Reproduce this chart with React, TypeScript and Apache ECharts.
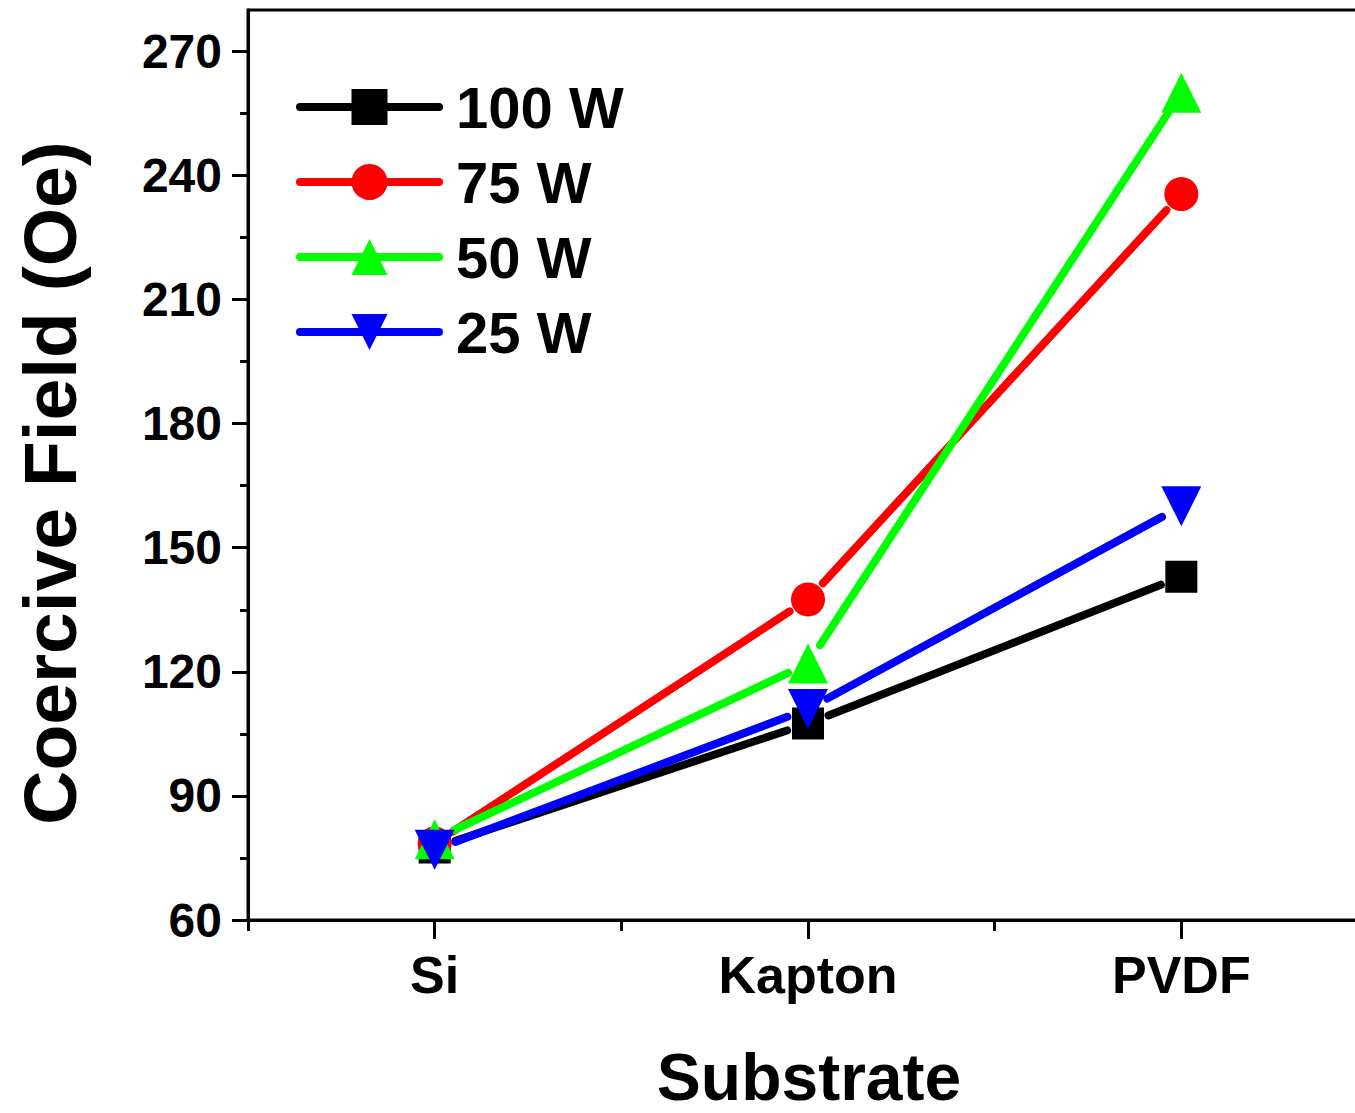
import React, { useEffect, useRef } from 'react';
import * as echarts from 'echarts';

// ---- data ----
const categories = ['Si', 'Kapton', 'PVDF'];
const seriesNames = ['100 W', '75 W', '50 W', '25 W'];
const values100W = [77.5, 107.5, 143];
const values75W = [78.5, 137.5, 235.5];
const values50W = [79.5, 122, 260];
const values25W = [77, 111, 160];
const yMajorTicks = [60, 90, 120, 150, 180, 210, 240, 270];
const yMinorTicks = [75, 105, 135, 165, 195, 225, 255];
const yMin = 60;
const yMax = 280;

// ---- styles ----
const FONT = '"Liberation Sans", Arial, Helvetica, sans-serif';
const colors = ['#000000', '#ff0000', '#00ff00', '#0000ff'];
const symbols = ['rect', 'circle', 'triangle', 'triangle'];
const symbolSizes: any[] = [32, 34, [40, 40], [40, 40]];
const symbolRotates = [0, 0, 0, 180];
const LINE_W = 8;
const GAP = 22;

const allValues = [values100W, values75W, values50W, values25W];

function segments(vals: number[]) {
  return vals.slice(1).map((v, i) => [i, vals[i], i + 1, v]);
}

function segRenderer(color: string) {
  return (params: any, api: any) => {
    const a = api.coord([api.value(0), api.value(1)]);
    const b = api.coord([api.value(2), api.value(3)]);
    const dx = b[0] - a[0];
    const dy = b[1] - a[1];
    const len = Math.hypot(dx, dy) || 1;
    const ux = dx / len;
    const uy = dy / len;
    return {
      type: 'line',
      shape: {
        x1: a[0] + ux * GAP,
        y1: a[1] + uy * GAP,
        x2: b[0] - ux * GAP,
        y2: b[1] - uy * GAP,
      },
      style: { stroke: color, lineWidth: LINE_W, lineCap: 'round', fill: null },
    };
  };
}

export default function App() {
  const ref = useRef<HTMLDivElement>(null);

  useEffect(() => {
    document.body.style.margin = '0';
    document.body.style.overflow = 'hidden';
    document.documentElement.style.overflow = 'hidden';
    if (!ref.current) return;
    const chart = echarts.init(ref.current, null, { renderer: 'svg' });

    const lineSeries = allValues.map((vals, i) => ({
      type: 'custom',
      name: seriesNames[i] + ' line',
      xAxisIndex: 0,
      yAxisIndex: 0,
      data: segments(vals),
      encode: { x: [0, 2], y: [1, 3] },
      renderItem: segRenderer(colors[i]),
      silent: true,
      z: 2,
    }));

    const markerSeries = allValues.map((vals, i) => ({
      type: 'line',
      name: seriesNames[i],
      xAxisIndex: 0,
      yAxisIndex: 0,
      data: vals,
      color: colors[i],
      symbol: symbols[i],
      symbolSize: symbolSizes[i],
      symbolRotate: symbolRotates[i],
      showAllSymbol: true,
      itemStyle: { color: colors[i], opacity: 1 },
      lineStyle: { width: 0, color: colors[i] },
      z: 3,
    }));

    const option: any = {
      animation: false,
      backgroundColor: '#ffffff',
      grid: {
        show: true,
        left: 248,
        top: 10,
        width: 1120,
        height: 910,
        borderWidth: 3,
        borderColor: '#000',
        backgroundColor: 'transparent',
        containLabel: false,
      },
      legend: {
        orient: 'vertical',
        left: 291,
        top: 72,
        padding: 5,
        itemWidth: 139,
        itemHeight: 45,
        itemGap: 15,
        data: seriesNames,
        lineStyle: { width: LINE_W, cap: 'round' },
        textStyle: {
          fontFamily: FONT,
          fontWeight: 'bold',
          fontSize: 58,
          lineHeight: 60,
          color: '#000',
          padding: [0, 0, 0, 12],
        },
        selectedMode: false,
      },
      xAxis: [
        {
          type: 'category',
          data: categories,
          position: 'bottom',
          boundaryGap: true,
          axisLine: { show: true, lineStyle: { color: '#000', width: 3 } },
          axisTick: { show: true, alignWithLabel: true, inside: false, length: 19, lineStyle: { color: '#000', width: 3 } },
          axisLabel: {
            show: true,
            margin: 29,
            fontFamily: FONT,
            fontWeight: 'bold',
            fontSize: 52,
            color: '#000',
          },
          splitLine: { show: false },
        },
        {
          type: 'category',
          data: categories,
          position: 'bottom',
          offset: 0,
          boundaryGap: true,
          axisLine: { show: false },
          axisTick: { show: true, alignWithLabel: false, inside: false, length: 11, lineStyle: { color: '#000', width: 3 } },
          axisLabel: { show: false },
          splitLine: { show: false },
        },
      ],
      yAxis: [
        {
          type: 'value',
          position: 'left',
          min: yMin,
          max: yMax,
          interval: 30,
          axisLine: { show: true, lineStyle: { color: '#000', width: 3 } },
          axisTick: { show: true, inside: false, length: 16, customValues: yMajorTicks, lineStyle: { color: '#000', width: 3 } },
          axisLabel: {
            show: true,
            customValues: yMajorTicks,
            margin: 26,
            fontFamily: FONT,
            fontWeight: 'bold',
            fontSize: 48,
            color: '#000',
          },
          splitLine: { show: false },
        },
        {
          type: 'value',
          position: 'left',
          offset: 0,
          min: yMin,
          max: yMax,
          axisLine: { show: false },
          axisTick: { show: true, inside: false, length: 8, customValues: yMinorTicks, lineStyle: { color: '#000', width: 3 } },
          axisLabel: { show: false },
          splitLine: { show: false },
        },
      ],
      graphic: [
        {
          type: 'text',
          x: 50,
          y: 483,
          rotation: Math.PI / 2,
          style: {
            text: 'Coercive Field (Oe)',
            fontFamily: FONT,
            fontWeight: 'bold',
            fontSize: 75,
            fill: '#000',
            align: 'center',
            verticalAlign: 'middle',
            textAlign: 'center',
            textVerticalAlign: 'middle',
          },
        },
        {
          type: 'text',
          x: 809,
          y: 1077,
          style: {
            text: 'Substrate',
            fontFamily: FONT,
            fontWeight: 'bold',
            fontSize: 66,
            fill: '#000',
            align: 'center',
            verticalAlign: 'middle',
            textAlign: 'center',
            textVerticalAlign: 'middle',
          },
        },
      ],
      series: [...lineSeries, ...markerSeries],
    };

    chart.setOption(option);
    return () => chart.dispose();
  }, []);

  return <div ref={ref} style={{ width: 1400, height: 1113 }} />;
}
